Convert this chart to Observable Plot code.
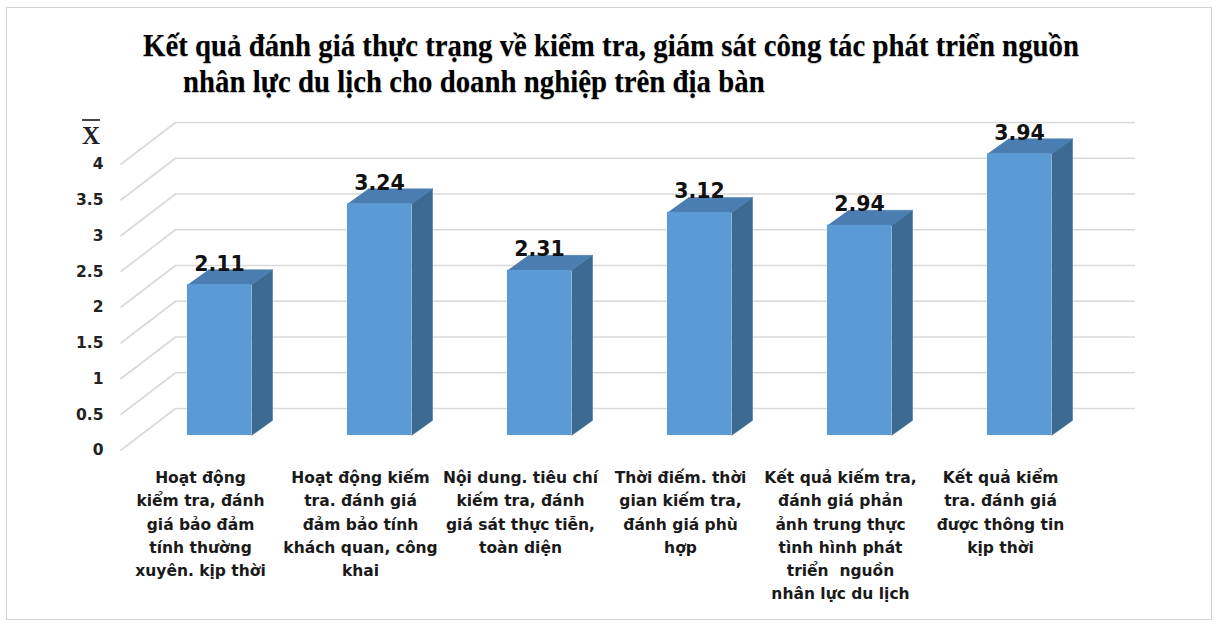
<!DOCTYPE html>
<html>
<head>
<meta charset="utf-8">
<script src="https://cdn.jsdelivr.net/npm/d3@7"></script>
<script src="https://cdn.jsdelivr.net/npm/@observablehq/plot@0.6"></script>
<style>
  html, body { margin: 0; padding: 0; background: #fff; }
  #page { position: relative; width: 1219px; height: 627px; overflow: hidden; background: #fff; }
  #frame { position: absolute; left: 6px; top: 7px; width: 1206px; height: 613px; border: 1px solid #d4d4d4; box-sizing: border-box; }
  .title { position: absolute; font-family: "Liberation Serif", "Times New Roman", serif; font-weight: bold; font-size: 32px; line-height: 31px; color: #000; white-space: nowrap; transform-origin: 0 0; text-shadow: 0 1px 1px rgba(0,0,0,0.25); }
  #ylabel { position: absolute; left: 82px; top: 119px; font-family: "Liberation Serif", serif; font-weight: bold; font-size: 25px; line-height: 20px; color: #222; border-top: 2px solid #444; padding-top: 5px; }
  #chart { position: absolute; left: 0; top: 100px; }
</style>
</head>
<body>
<div id="page">
  <div id="frame"></div>
  <div class="title" id="t1">Kết quả đánh giá thực trạng về kiểm tra, giám sát công tác phát triển nguồn</div>
  <div class="title" id="t2">nhân lực du lịch cho doanh nghiệp trên địa bàn</div>
  <div id="ylabel">X</div>
  <div id="chart"></div>
</div>
<script>
// ---- data ----
const categories = [
  "Hoạt động\nkiểm tra, đánh\ngiá bảo đảm\ntính thường\nxuyên. kịp thời",
  "Hoạt động kiếm\ntra. đánh giá\nđảm bảo tính\nkhách quan, công\nkhai",
  "Nội dung. tiêu chí\nkiếm tra, đánh\ngiá sát thực tiễn,\ntoàn diện",
  "Thời điếm. thời\ngian kiếm tra,\nđánh giá phù\nhợp",
  "Kết quả kiếm tra,\nđánh giá phản\nảnh trung thực\ntình hình phát\ntriển  nguồn\nnhân lực du lịch",
  "Kết quả kiểm\ntra. đánh giá\nđược thông tin\nkịp thời"
];
const values = [2.11, 3.24, 2.31, 3.12, 2.94, 3.94];
const yTicks = [0, 0.5, 1, 1.5, 2, 2.5, 3, 3.5, 4];
const yTickLabels = ["0", "0.5", "1", "1.5", "2", "2.5", "3", "3.5", "4"];

// ---- title fitting ----
const t1 = document.getElementById("t1"), t2 = document.getElementById("t2");
const targetW = 936;
const sx = targetW / t1.getBoundingClientRect().width;
t1.style.left = "143px"; t1.style.top = "30px";
t2.style.left = "183px"; t2.style.top = "66px";
t1.style.transform = `scaleX(${sx})`;
t2.style.transform = `scaleX(${sx})`;

// ---- 3D geometry (pixels) ----
const X0 = 120, X1 = 1080, Y0 = 350, Y4 = 64;
const pxX = (X1 - X0) / categories.length;   // px per category unit
const pxY = (Y0 - Y4) / 4;                    // px per value unit
const wallDX = 55, wallDY = 42;               // back wall offset
const barDX = 19, barDY = 15;                 // bar front-face offset from front plane
const depthX = 21, depthY = 15;               // bar depth
const pad = 0.3;

const rows = categories.map((c, i) => ({i, category: c, value: values[i]}));

const dX = depthX / pxX, dY = depthY / pxY;
const sidePolys = rows.flatMap(d => {
  const xr = d.i + 1 - pad;
  return [
    {bar: d.i, x: xr, y: 0},
    {bar: d.i, x: xr + dX, y: dY},
    {bar: d.i, x: xr + dX, y: d.value + dY},
    {bar: d.i, x: xr, y: d.value}
  ];
});
const topPolys = rows.flatMap(d => {
  const xl = d.i + pad, xr = d.i + 1 - pad;
  return [
    {bar: d.i, x: xl, y: d.value},
    {bar: d.i, x: xr, y: d.value},
    {bar: d.i, x: xr + dX, y: d.value + dY},
    {bar: d.i, x: xl + dX, y: d.value + dY}
  ];
});

const grid = "#d9d9d9";
const font = "DejaVu Sans";

const plot = Plot.plot({
  width: 1219,
  height: 520,
  marginTop: 0, marginBottom: 0, marginLeft: 0, marginRight: 0,
  x: {type: "linear", domain: [0, categories.length], range: [X0, X1], axis: null},
  y: {type: "linear", domain: [0, 4], range: [Y0, Y4], axis: null},
  style: {background: "transparent", overflow: "visible"},
  marks: [
    // back wall gridlines
    Plot.ruleY(yTicks, {y: d => d, x1: () => 0, x2: () => categories.length, dx: wallDX, dy: -wallDY, stroke: grid, strokeWidth: 1.6}),
    // side wall diagonals
    Plot.link(yTicks, {x1: () => 0, y1: d => d, x2: () => wallDX / pxX, y2: d => d + wallDY / pxY, stroke: grid, strokeWidth: 1.6}),
    // bar side faces
    Plot.line(sidePolys, {x: "x", y: "y", z: "bar", fill: "#3d6a92", stroke: "#3d6a92", strokeWidth: 0.5, curve: "linear", dx: barDX, dy: -barDY}),
    // bar top faces
    Plot.line(topPolys, {x: "x", y: "y", z: "bar", fill: "#4a7db1", stroke: "#4a7db1", strokeWidth: 0.5, curve: "linear", dx: barDX, dy: -barDY}),
    // bar front faces
    Plot.rect(rows, {x1: d => d.i + pad, x2: d => d.i + 1 - pad, y1: () => 0, y2: "value", fill: "#5b9bd5", dx: barDX, dy: -barDY}),
    // value labels
    Plot.text(rows, {x: d => d.i + 0.5, y: "value", text: d => d.value.toFixed(2), dx: barDX, dy: -barDY - depthY + 1, lineAnchor: "bottom", fontFamily: font, fontWeight: "bold", fontSize: 20.5, fill: "#111"}),
    // y tick labels
    Plot.text(yTicks, {x: () => 0, y: d => d, text: (d, i) => yTickLabels[i], textAnchor: "end", dx: -17, fontFamily: font, fontWeight: "bold", fontSize: 15.5, fill: "#222"}),
    // x category labels
    Plot.text(rows, {x: d => d.i + 0.5, y: () => 0, text: "category", lineAnchor: "top", lineHeight: 1.5, dy: 16, fontFamily: font, fontWeight: "bold", fontSize: 15.5, fill: "#1a1a1a"})
  ]
});
document.getElementById("chart").appendChild(plot);
</script>
</body>
</html>
